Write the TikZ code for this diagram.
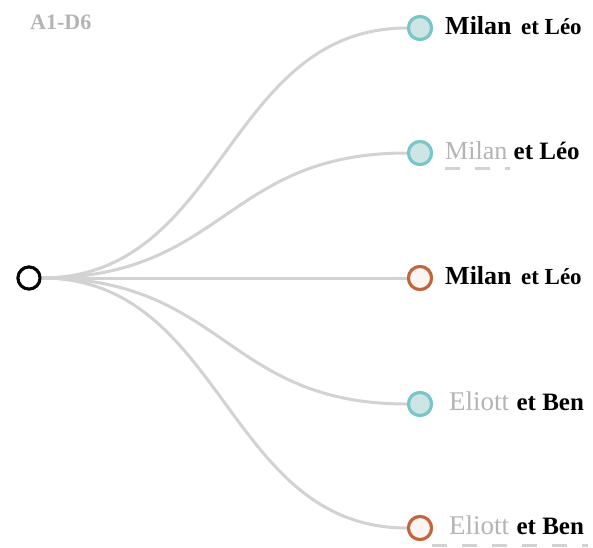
\documentclass[tikz,border=0pt]{standalone}
\usepackage{fontspec}
\setmainfont{Liberation Serif}
\usetikzlibrary{positioning}

\definecolor{linkgray}{HTML}{D2D2D2}
\definecolor{tealline}{HTML}{78C6C7}
\definecolor{tealfill}{HTML}{CDE5E5}
\definecolor{rustline}{HTML}{C2653D}
\definecolor{rustfill}{HTML}{FBF4F1}
\definecolor{lightword}{HTML}{B4B4B4}

\tikzset{
  link/.style={draw=linkgray,line width=3pt},
  teal/.style={shape=circle,draw=tealline,fill=tealfill,line width=3pt,minimum size=23pt,inner sep=0pt},
  rust/.style={shape=circle,draw=rustline,fill=rustfill,line width=3pt,minimum size=23pt,inner sep=0pt},
  rootdot/.style={shape=circle,draw=black,fill=white,line width=3pt,minimum size=22pt,inner sep=0pt},
  word/.style={inner sep=0pt,anchor=base west},
  underline/.style={draw=linkgray,line width=3pt,dash pattern=on 15pt off 15pt}
}

\begin{document}
\begin{tikzpicture}[x=1pt,y=-1pt]
            \useasboundingbox[fill=white] (0,0) rectangle (593,547);

            \node[word,text=lightword,font=\fontsize{22}{22}\selectfont\bfseries] (title) at (30,29) {A1-D6};

            \node[rootdot] (root) at (29,278) {};

            \node[teal] (l1) at (420,28) {};
            \node[teal] (l2) at (420,153) {};
            \node[rust] (l3) at (420,278) {};
            \node[teal] (l4) at (420,404) {};
            \node[rust] (l5) at (420,528) {};

            \path [link] (root) .. controls (225,278) and (225,28) .. (l1);
            \path [link] (root) .. controls (225,278) and (225,153) .. (l2);
            \path [link] (root) -- (l3);
            \path [link] (root) .. controls (225,278) and (225,404) .. (l4);
            \path [link] (root) .. controls (225,278) and (225,528) .. (l5);

            % redraw circles above the links
            \node[teal] at (l1) {};
            \node[teal] at (l2) {};
            \node[rust] at (l3) {};
            \node[teal] at (l4) {};
            \node[rust] at (l5) {};
            \node[rootdot] at (root) {};

            % labels
            \node[word,font=\fontsize{26}{26}\selectfont\bfseries] (n1) at (445,34) {Milan};
            \node[word,font=\fontsize{23}{23}\selectfont\bfseries,base right=9pt of n1] (r1) {et Léo};

            \node[word,text=lightword,font=\fontsize{26}{26}\selectfont] (n2) at (445,159) {Milan};
            \node[word,font=\fontsize{25}{25}\selectfont\bfseries,base right=6pt of n2] (r2) {et Léo};

            \node[word,font=\fontsize{26}{26}\selectfont\bfseries] (n3) at (445,284) {Milan};
            \node[word,font=\fontsize{23}{23}\selectfont\bfseries,base right=9pt of n3] (r3) {et Léo};

            \node[word,text=lightword,font=\fontsize{27}{27}\selectfont] (n4) at (449,410) {Eliott};
            \node[word,font=\fontsize{25}{25}\selectfont\bfseries,base right=7pt of n4] (r4) {et Ben};

            \node[word,text=lightword,font=\fontsize{27}{27}\selectfont] (n5) at (449,534) {Eliott};
            \node[word,font=\fontsize{25}{25}\selectfont\bfseries,base right=7pt of n5] (r5) {et Ben};

            \coordinate (u2a) at ([yshift=-9pt]n2.base west);
            \coordinate (u2b) at ([xshift=2pt,yshift=-9pt]n2.base east);
            \path [underline] (u2a) -- (u2b);

            \coordinate (u5a) at ([xshift=-17pt,yshift=-11pt]n5.base west);
            \coordinate (u5b) at ([xshift=4pt,yshift=-11pt]r5.base east);
            \path [underline] (u5a) -- (u5b);
        \end{tikzpicture}
\end{document}
